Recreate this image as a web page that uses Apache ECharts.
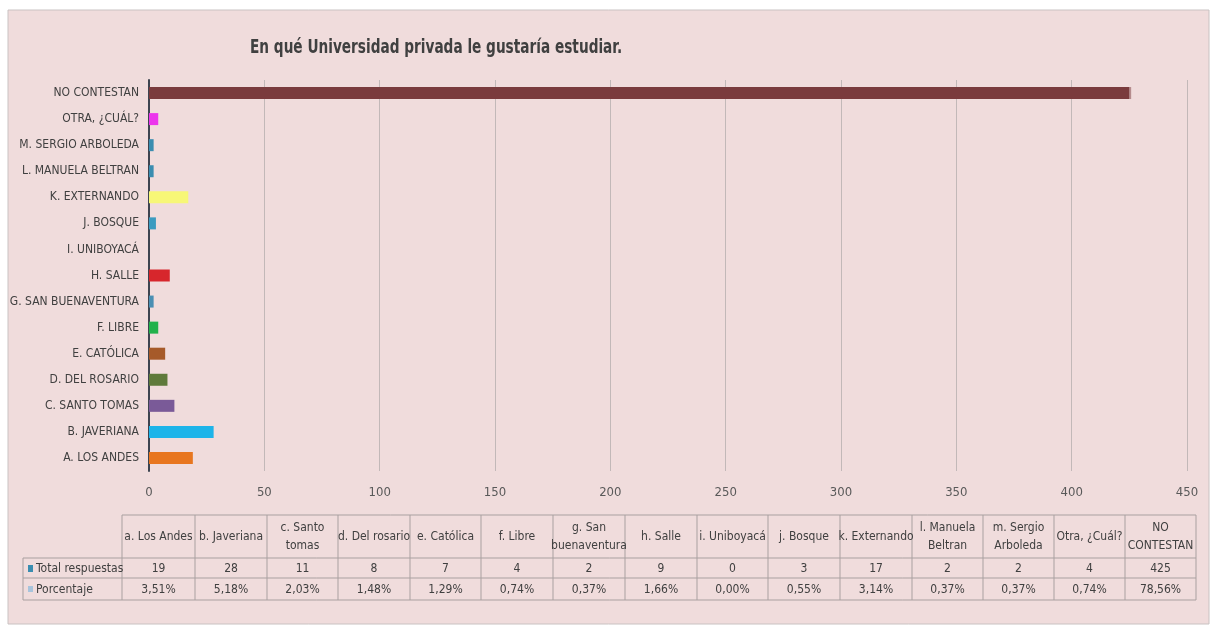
<!DOCTYPE html>
<html>
<head>
<meta charset="utf-8">
<script src="https://cdn.jsdelivr.net/npm/echarts@6/dist/echarts.min.js"></script>
<style>
html,body{margin:0;padding:0;background:#ffffff;}
#chart{width:1212px;height:626px;}
</style>
</head>
<body>
<div id="chart"></div>
<script>
// Categories, bottom to top on the chart
const categories = ['A. LOS ANDES','B. JAVERIANA','C. SANTO TOMAS','D. DEL ROSARIO','E. CATÓLICA','F. LIBRE','G. SAN BUENAVENTURA','H. SALLE','I. UNIBOYACÁ','J. BOSQUE','K. EXTERNANDO','L. MANUELA BELTRAN','M. SERGIO ARBOLEDA','OTRA, ¿CUÁL?','NO CONTESTAN'];
const tableHeaders = ['a. Los Andes','b. Javeriana','c. Santo\ntomas','d. Del rosario','e. Católica','f. Libre','g. San\nbuenaventura','h. Salle','i. Uniboyacá','j. Bosque','k. Externando','l. Manuela\nBeltran','m. Sergio\nArboleda','Otra, ¿Cuál?','NO\nCONTESTAN'];
const totalRespuestas = [19, 28, 11, 8, 7, 4, 2, 9, 0, 3, 17, 2, 2, 4, 425];
const porcentaje = [3.51, 5.18, 2.03, 1.48, 1.29, 0.74, 0.37, 1.66, 0.00, 0.55, 3.14, 0.37, 0.37, 0.74, 78.56];
const barColors = ['#e8761f','#1db4e9','#7a5a98','#5f7a3b','#a65a2a','#22b14c','#4a8fb3','#d7262c','#4a8fb3','#3b9bc0','#f7f777','#3a8db0','#3a8db0','#ec35ec','#7a3b3d'];
const xTicks = [0, 50, 100, 150, 200, 250, 300, 350, 400, 450];

const FONT = '"Liberation Sans Narrow","DejaVu Sans Condensed","Noto Sans",sans-serif';
const chart = echarts.init(document.getElementById('chart'));

// table geometry
const colX = [23,122,195,267,338,410,481,553,625,697,768,840,912,983,1054,1125,1196];
const rowY = [515,558,578,600];
const lineColor = '#a9a0a0';
const g = [];
g.push({type:'rect', shape:{x:8,y:10,width:1201,height:614}, style:{fill:'#f0dcdc', stroke:'#c9c2c2', lineWidth:1}, z:-10});
// horizontal lines
g.push({type:'line', shape:{x1:colX[1],y1:rowY[0],x2:colX[16],y2:rowY[0]}, style:{stroke:lineColor,lineWidth:1}});
for (let r=1;r<4;r++) g.push({type:'line', shape:{x1:colX[0],y1:rowY[r],x2:colX[16],y2:rowY[r]}, style:{stroke:lineColor,lineWidth:1}});
// vertical lines
g.push({type:'line', shape:{x1:colX[0],y1:rowY[1],x2:colX[0],y2:rowY[3]}, style:{stroke:lineColor,lineWidth:1}});
for (let c=1;c<colX.length;c++) g.push({type:'line', shape:{x1:colX[c],y1:rowY[0],x2:colX[c],y2:rowY[3]}, style:{stroke:lineColor,lineWidth:1}});
// header texts and values
for (let i=0;i<tableHeaders.length;i++){
  const cx=(colX[i+1]+colX[i+2])/2;
  g.push({type:'text', style:{text:tableHeaders[i], x:cx, y:(rowY[0]+rowY[1])/2, align:'center', verticalAlign:'middle', font:'12px '+FONT, fill:'#404040', lineHeight:18}});
  g.push({type:'text', style:{text:String(totalRespuestas[i]), x:cx, y:(rowY[1]+rowY[2])/2+1, align:'center', verticalAlign:'middle', font:'12px '+FONT, fill:'#404040'}});
  g.push({type:'text', style:{text:porcentaje[i].toFixed(2).replace('.',',')+'%', x:cx, y:(rowY[2]+rowY[3])/2+1, align:'center', verticalAlign:'middle', font:'12px '+FONT, fill:'#404040'}});
}
// row legend keys
g.push({type:'rect', shape:{x:28,y:565,width:5,height:7}, style:{fill:'#3a8db0'}});
g.push({type:'text', style:{text:'Total respuestas', x:36, y:568+1, verticalAlign:'middle', font:'12px '+FONT, fill:'#404040'}});
g.push({type:'rect', shape:{x:28,y:586,width:5,height:6}, style:{fill:'#a8c4dc'}});
g.push({type:'text', style:{text:'Porcentaje', x:36, y:589+1, verticalAlign:'middle', font:'12px '+FONT, fill:'#404040'}});
// title (horizontally condensed to mimic the narrow original face)
g.push({type:'text', x:250, y:48, scaleX:0.76, scaleY:1, style:{text:'En qué Universidad privada le gustaría estudiar.', x:0, y:0, verticalAlign:'middle', font:'bold 20px '+FONT, fill:'#404040'}});

chart.setOption({
  animation:false,
  backgroundColor:'#ffffff',
  graphic:g,
  grid:{left:149, right:25, top:80, bottom:155, containLabel:false},
  xAxis:{
    type:'value', min:0, max:450, interval:50,
    axisLine:{show:false}, axisTick:{show:false},
    axisLabel:{color:'#595959', fontFamily:FONT, fontSize:13, margin:15,
      formatter:v=> xTicks.indexOf(v)>=0 ? String(v) : ''},
    splitLine:{show:true, lineStyle:{color:'#c2b8b8', width:1}}
  },
  yAxis:{
    type:'category', data:categories,
    axisLine:{show:true, lineStyle:{color:'#3d4450', width:2}},
    axisTick:{show:false},
    axisLabel:{color:'#404040', fontFamily:FONT, fontSize:12, margin:10}
  },
  series:[
    {name:'Total respuestas', type:'bar', stack:'s', barWidth:12,
     data: totalRespuestas.map((v,i)=>({value:v, itemStyle:{color:barColors[i]}}))},
    {name:'Porcentaje', type:'bar', stack:'s', barWidth:12,
     data: porcentaje.map((v,i)=>({value:v/100, itemStyle:{color:barColors[i], opacity:0.5}}))}
  ]
});
</script>
</body>
</html>
